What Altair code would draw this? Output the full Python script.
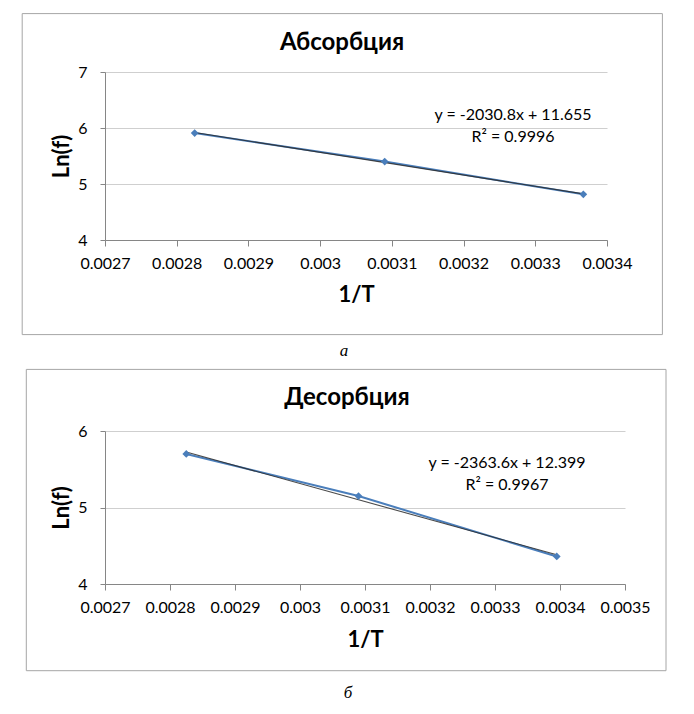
import altair as alt
import pandas as pd

# ---- data ----
abs_x = [0.002825, 0.00309, 0.003367]
abs_y = [5.91, 5.40, 4.815]
des_x = [0.002825, 0.00309, 0.003395]
des_y = [5.70, 5.15, 4.36]

abs_xticks = [0.0027, 0.0028, 0.0029, 0.0030, 0.0031, 0.0032, 0.0033, 0.0034]
abs_yticks = [4, 5, 6, 7]
des_xticks = [0.0027, 0.0028, 0.0029, 0.0030, 0.0031, 0.0032, 0.0033, 0.0034, 0.0035]
des_yticks = [4, 5, 6]

abs_title = "Абсорбция"
des_title = "Десорбция"
abs_eq = ["y = -2030.8x + 11.655", "R² = 0.9996"]
des_eq = ["y = -2363.6x + 12.399", "R² = 0.9967"]
abs_caption = "а"
des_caption = "б"
x_title = "1/T"
y_title = "Ln(f)"

FONT = "Lato"
BLUE = "#4A7EBB"
TREND = "#2a2a2a"
FRAME = "#a6a6a6"


def panel(xs, ys, xticks, yticks, w, h, title, eq, caption, geo):
    df = pd.DataFrame({"x": xs, "y": ys})
    one = alt.Data(values=[{"k": 0}])
    xenc = alt.X(
        "x:Q",
        scale=alt.Scale(domain=[xticks[0], xticks[-1]], nice=False, zero=False),
        axis=alt.Axis(values=xticks, tickCount=len(xticks), tickMinStep=0.00001,
                      format=".4~f", grid=False, title=x_title,
                      labelFont=FONT, labelFontSize=16, labelColor="black",
                      labelOverlap=False, labelBaseline="middle", labelFlush=False,
                      tickSize=6, labelPadding=17.5,
                      titleFont=FONT, titleFontSize=22, titleFontWeight="bold",
                      titleColor="black", titleBaseline="middle",
                      titleX=w / 2, titleY=geo["xty"]),
    )
    yenc = alt.Y(
        "y:Q",
        scale=alt.Scale(domain=[yticks[0], yticks[-1]], nice=False, zero=False),
        axis=alt.Axis(values=[float(v) for v in yticks], tickCount=len(yticks),
                      tickMinStep=0.1, format=".0f", grid=True, title=y_title,
                      labelFont=FONT, labelFontSize=16, labelColor="black",
                      labelOverlap=False, labelFlush=False,
                      tickSize=5, labelPadding=13,
                      titleFont=FONT, titleFontSize=22, titleFontWeight="bold",
                      titleColor="black", titleBaseline="middle", titleAngle=270,
                      titleX=geo["ytx"], titleY=h / 2),
    )
    base = alt.Chart(df).encode(x=xenc, y=yenc)
    line = base.mark_line(color=BLUE, strokeWidth=2)
    trend = alt.Chart(df).transform_regression("x", "y").mark_line(
        color=TREND, strokeWidth=1.1, opacity=0.85
    ).encode(x=xenc, y=yenc)
    pts = base.mark_point(shape="diamond", filled=True, color=BLUE, size=60, opacity=1)

    fl, fr, ft, fb = geo["frame"]
    frame = alt.Chart(one).mark_rect(filled=False, stroke=FRAME, strokeWidth=1).encode(
        x=alt.value(fl), x2=alt.value(fr), y=alt.value(ft), y2=alt.value(fb)
    )
    ttl = alt.Chart(one).mark_text(
        text=title, font=FONT, fontSize=24, fontWeight="bold", color="black",
        align="center", baseline="alphabetic"
    ).encode(x=alt.value(geo["title"][0]), y=alt.value(geo["title"][1]))
    eq1 = alt.Chart(one).mark_text(
        text=eq[0], font=FONT, fontSize=16, color="black", align="center", baseline="middle"
    ).encode(x=alt.value(geo["eq"][0]), y=alt.value(geo["eq"][1]))
    eq2 = alt.Chart(one).mark_text(
        text=eq[1], font=FONT, fontSize=16, color="black", align="center", baseline="middle"
    ).encode(x=alt.value(geo["eq"][0]), y=alt.value(geo["eq"][2]))
    cap = alt.Chart(one).mark_text(
        text=caption, font="Liberation Serif", fontSize=17, fontStyle="italic", color="black",
        align="center", baseline="alphabetic"
    ).encode(x=alt.value(geo["cap"][0]), y=alt.value(geo["cap"][1]))

    return alt.layer(frame, line, trend, pts, ttl, eq1, eq2, cap).properties(width=w, height=h)


top = panel(abs_x, abs_y, abs_xticks, abs_yticks, 502, 168, abs_title, abs_eq, abs_caption,
            {"frame": (-82.8, 557.4, -58.4, 262.6), "title": (237, -22.3),
             "eq": (408, 43.3, 65.3), "cap": (239, 284.3), "xty": 54, "ytx": -44})
bot = panel(des_x, des_y, des_xticks, des_yticks, 520, 153, des_title, des_eq, des_caption,
            {"frame": (-78.7, 561, -61.6, 239.7), "title": (242, -26.3),
             "eq": (402, 32.4, 54), "cap": (243, 267.4), "xty": 55.7, "ytx": -43.3})

chart = alt.vconcat(top, bot, spacing=8).resolve_scale(x="independent", y="independent").properties(
    padding={"left": 13, "top": 4, "right": 5, "bottom": 5}
).configure_view(stroke="transparent").configure_axis(
    domainColor="#868686", tickColor="#868686", gridColor="#cfcfcf",
    domainWidth=1, tickWidth=1, gridWidth=1,
)

chart.save("out.html", embed_options={"renderer": "svg", "actions": False})
